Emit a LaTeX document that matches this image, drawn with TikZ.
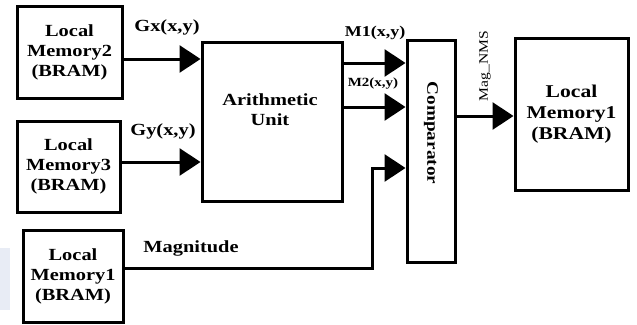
\documentclass[tikz,border=0pt]{standalone}
\usepackage{fontspec}
\setmainfont{Liberation Serif}[FakeStretch=1.2]
\usetikzlibrary{arrows.meta,calc}
\begin{document}
\begin{tikzpicture}[x=1pt,y=-1pt,
  blk/.style={draw=black,line width=3pt,rectangle,inner sep=0pt,align=center,
    font=\fontsize{17}{20}\selectfont\bfseries},
  lbl/.style={inner sep=0pt,font=\fontsize{17}{20}\selectfont\bfseries},
  arr/.style={line width=3pt,-{Triangle[length=21pt,width=27pt]}},
  wire/.style={line width=3pt}]
\useasboundingbox (0,0) rectangle (637,324);
\fill[fill={rgb,255:red,232;green,236;blue,245}] (0,248) rectangle (10,310);
% blocks
\node[blk,minimum width=105pt,minimum height=92pt] (lm2) at (69.5,52) {Local\\Memory2\\(BRAM)};
\node[blk,minimum width=103pt,minimum height=91pt] (lm3) at (68.5,166.5) {Local\\Memory3\\(BRAM)};
\node[blk,minimum width=100pt,minimum height=92pt] (lm1a) at (73,276) {Local\\Memory1\\(BRAM)};
\node[blk,minimum width=140pt,minimum height=159pt] (au) at (272,121.5) {};
\node[lbl,align=center] (autext) at (270,110) {Arithmetic\\Unit};
\node[blk,minimum width=48pt,minimum height=222pt] (cmp) at (431,151) {};
\node[lbl,rotate=-90,font=\fontsize{16}{18}\selectfont\bfseries] (cmptext) at (431,133) {Comparator};
\node[blk,minimum width=113pt,minimum height=152pt,font=\fontsize{18}{21}\selectfont\bfseries] (lm1b) at (571.5,114) {Local\\Memory1\\(BRAM)};
% labels
\node[lbl] (gx) at (167,27) {Gx(x,y)};
\node[lbl] (gy) at (163,131) {Gy(x,y)};
\node[lbl] (mag) at (191,248) {Magnitude};
\node[lbl,font=\fontsize{15}{18}\selectfont\bfseries] (m1) at (375,33) {M1(x,y)};
\node[lbl,font=\fontsize{12.5}{15}\selectfont\bfseries] (m2) at (373,84) {M2(x,y)};
\node[inner sep=0pt,rotate=90,font=\fontsize{13}{15}\selectfont] (nms) at (485,66) {Mag\_NMS};
% connectors
\draw[arr] ([yshift=-7pt]lm2.east) -- ([yshift=-7pt]lm2.east -| au.west);
\draw[arr] ([yshift=4.5pt]lm3.east) -- ([yshift=4.5pt]lm3.east -| au.west);
\draw[arr] ([yshift=58.5pt]au.east) -- ([yshift=58.5pt]au.east -| cmp.west);
\draw[arr] ([yshift=14.5pt]au.east) -- ([yshift=14.5pt]au.east -| cmp.west);
\coordinate (kink) at (372,268);
\draw[arr] ([yshift=8pt]lm1a.east) -- (kink) |- ([yshift=-17pt]cmp.west);
\draw[arr] ([yshift=35pt]cmp.east) -- ([yshift=35pt]cmp.east -| lm1b.west);
\end{tikzpicture}
\end{document}
